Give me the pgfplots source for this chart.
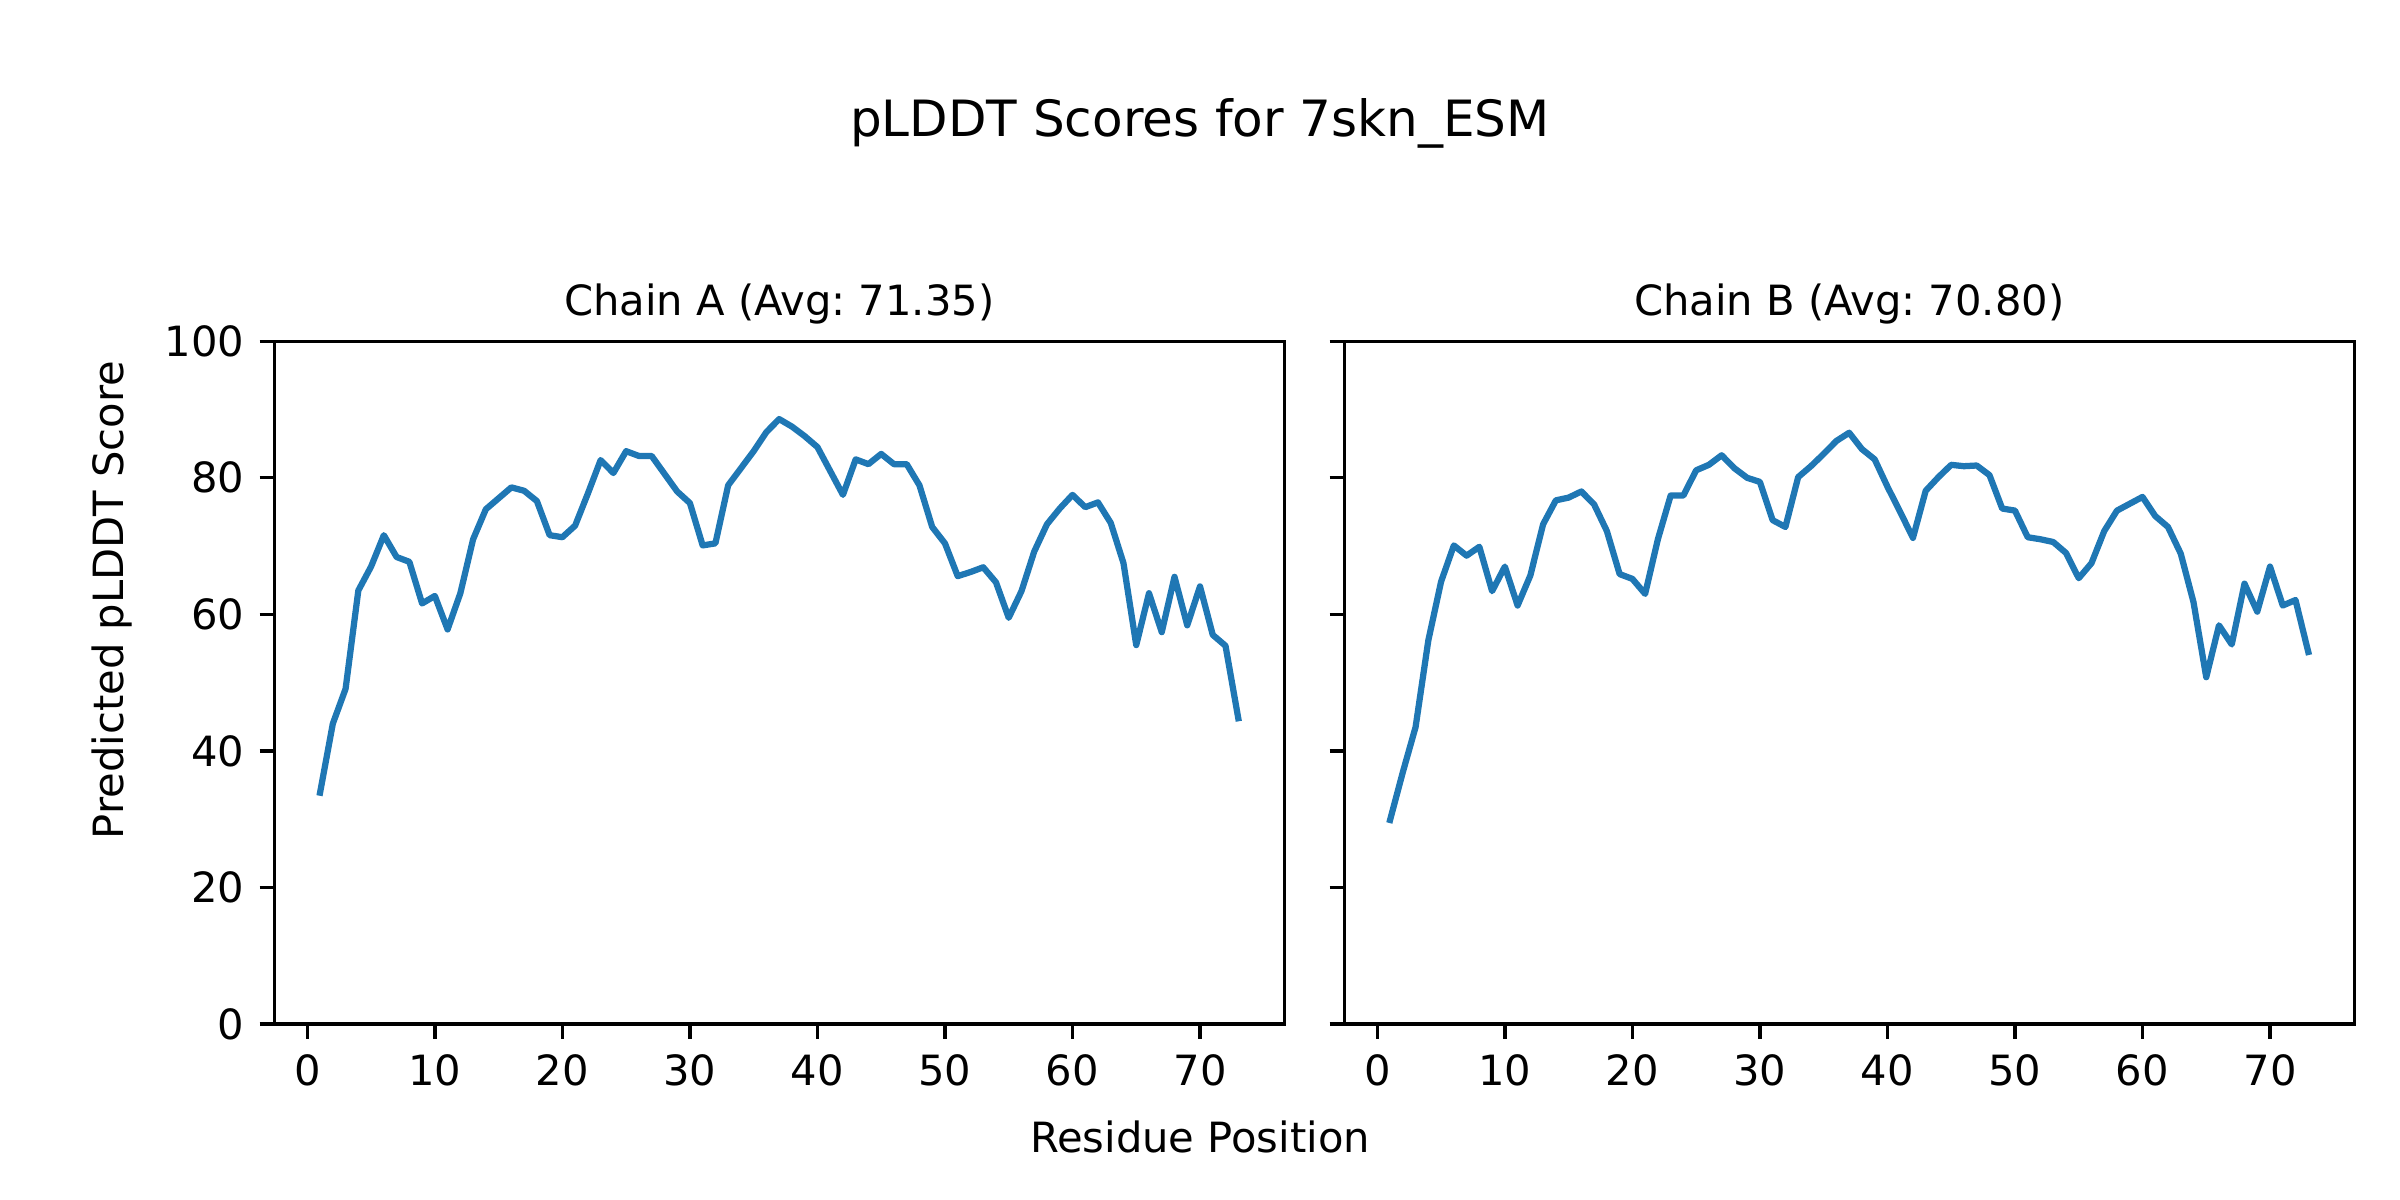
\documentclass[border=0pt]{standalone}
\usepackage{fontspec}
\setmainfont{DejaVu Sans}
\usepackage{pgfplots}
\usepackage{pgfplotstable}
\pgfplotsset{compat=1.18}
\definecolor{mplblue}{HTML}{1F77B4}
\frenchspacing

\pgfplotstableread{
x y
1 33.9
2 44.0
3 49.1
4 63.5
5 67.0
6 71.6
7 68.4
8 67.7
9 61.6
10 62.7
11 57.8
12 63.1
13 71.0
14 75.4
15 77.0
16 78.6
17 78.1
18 76.6
19 71.6
20 71.3
21 73.0
22 77.7
23 82.6
24 80.7
25 83.9
26 83.2
27 83.2
28 80.6
29 78.0
30 76.3
31 70.1
32 70.4
33 78.9
34 81.4
35 83.9
36 86.7
37 88.6
38 87.5
39 86.1
40 84.5
41 81.0
42 77.5
43 82.7
44 82.0
45 83.5
46 82.0
47 82.0
48 78.9
49 72.8
50 70.4
51 65.6
52 66.2
53 66.9
54 64.7
55 59.5
56 63.4
57 69.2
58 73.2
59 75.5
60 77.5
61 75.7
62 76.4
63 73.4
64 67.5
65 55.5
66 63.1
67 57.4
68 65.5
69 58.4
70 64.1
71 57.0
72 55.4
73 44.8
}\chainA

\pgfplotstableread{
x y
1 29.9
2 36.9
3 43.5
4 56.2
5 64.8
6 70.1
7 68.6
8 69.9
9 63.4
10 67.0
11 61.3
12 65.7
13 73.2
14 76.7
15 77.1
16 78.0
17 76.1
18 72.2
19 65.9
20 65.2
21 63.0
22 71.0
23 77.4
24 77.4
25 81.1
26 81.9
27 83.3
28 81.4
29 80.0
30 79.4
31 73.8
32 72.8
33 80.1
34 81.7
35 83.5
36 85.4
37 86.6
38 84.2
39 82.7
40 78.7
41 75.0
42 71.2
43 78.1
44 80.1
45 81.9
46 81.7
47 81.8
48 80.4
49 75.5
50 75.2
51 71.3
52 71.0
53 70.6
54 69.0
55 65.3
56 67.5
57 72.2
58 75.2
59 76.2
60 77.2
61 74.4
62 72.8
63 68.9
64 61.8
65 50.8
66 58.4
67 55.6
68 64.5
69 60.4
70 67.0
71 61.3
72 62.1
73 54.5
}\chainB

\pgfplotsset{
  plddt/.style={
    scale only axis,
    width=242.4pt, height=163.9pt,
    anchor=south west,
    xmin=-2.6, xmax=76.6, ymin=0, ymax=100,
    xtick={0,10,...,70}, ytick={0,20,...,100},
    xtick pos=bottom, ytick pos=left,
    tick align=outside,
    major tick length=3.5pt,
    every tick/.style={line width=0.8pt, black},
    axis line style={line width=0.8pt},
    tick label style={font=\fontsize{10}{12}\selectfont, /pgf/number format/assume math mode=true},
    xticklabel style={inner sep=0pt, anchor=north, yshift=-3.5pt},
    yticklabel style={inner sep=0pt, anchor=east, xshift=-3.5pt},
    clip=false,
  }
}

\begin{document}
\begin{tikzpicture}[x=1pt,y=1pt]
\path[use as bounding box] (0,0) rectangle (576,288);
\begin{axis}[plddt, at={(65.8pt,42.2pt)}]
\addplot[mplblue, line width=1.5pt, line join=round, line cap=rect] table[x=x,y=y] {\chainA};
\end{axis}
\begin{axis}[plddt, at={(322.6pt,42.2pt)}, yticklabels={}]
\addplot[mplblue, line width=1.5pt, line join=round, line cap=rect] table[x=x,y=y] {\chainB};
\end{axis}
\node[anchor=base, font=\fontsize{10}{12}\selectfont, inner sep=0pt] at (187,212.2) {Chain A (Avg: 71.35)};
\node[anchor=base, font=\fontsize{10}{12}\selectfont, inner sep=0pt] at (443.8,212.2) {Chain B (Avg: 70.80)};
\node[anchor=base, font=\fontsize{12}{14}\selectfont, inner sep=0pt] at (288,255.3) {pLDDT Scores for 7skn\_ESM};
\node[anchor=center, font=\fontsize{10}{12}\selectfont, inner sep=0pt] at (288,15.1) {Residue Position};
\node[anchor=center, rotate=90, font=\fontsize{10}{12}\selectfont, inner sep=0pt] at (26.9,144) {Predicted pLDDT Score};
\end{tikzpicture}
\end{document}
